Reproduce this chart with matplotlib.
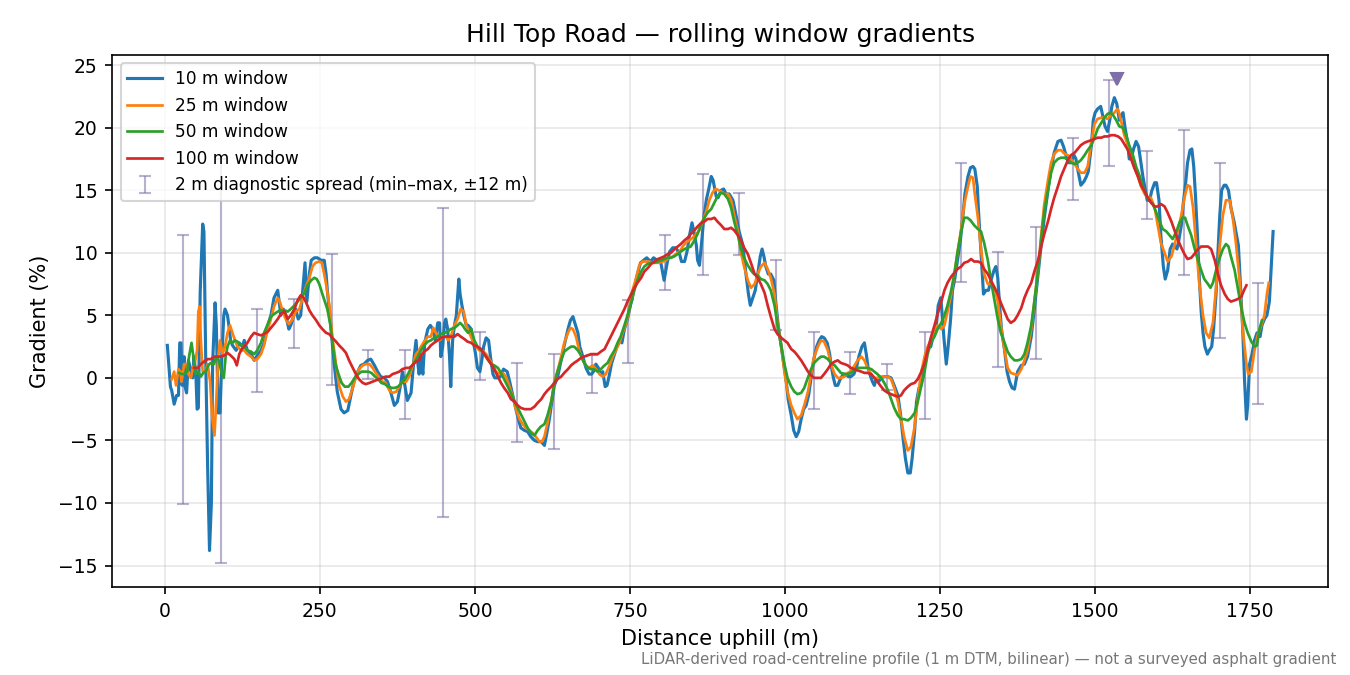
import matplotlib
matplotlib.use("Agg")
import matplotlib.pyplot as plt

# distances (m) and gradients (%), one pair of lists per window
dist_10 = [4, 9, 11, 15, 19, 22, 24, 26, 28, 31, 32, 35, 38, 45, 47, 50, 52, 54, 57, 61, 63, 66, 69, 72, 75, 77, 81, 83, 86, 89,
           92, 95, 97, 101, 104, 106, 109, 115, 120, 125, 128, 133, 139, 144, 149, 155, 160, 166, 171, 176, 182, 184, 187, 191,
           195, 200, 203, 208, 211, 215, 219, 224, 226, 229, 233, 236, 241, 246, 252, 257, 260, 262, 268, 273, 278, 284, 289,
           295, 300, 305, 311, 316, 321, 327, 332, 338, 343, 348, 354, 359, 364, 370, 375, 380, 383, 387, 391, 397, 400, 402,
           405, 408, 410, 413, 416, 419, 424, 428, 432, 436, 440, 443, 445, 448, 451, 453, 456, 459, 461, 464, 467, 470, 474,
           476, 479, 482, 486, 489, 494, 497, 501, 504, 508, 511, 514, 518, 522, 525, 529, 532, 537, 541, 546, 552, 556, 561,
           566, 570, 574, 580, 585, 590, 596, 601, 607, 612, 616, 620, 624, 628, 633, 639, 644, 650, 654, 658, 661, 666, 669,
           674, 679, 684, 688, 691, 695, 699, 702, 706, 710, 713, 717, 720, 725, 729, 733, 737, 741, 746, 752, 757, 762, 767,
           772, 777, 783, 788, 794, 799, 803, 805, 810, 814, 819, 824, 830, 833, 838, 842, 846, 850, 853, 857, 859, 862, 866,
           869, 873, 877, 881, 884, 889, 892, 897, 901, 905, 910, 916, 921, 926, 932, 937, 941, 944, 948, 952, 956, 960, 963,
           966, 969, 973, 977, 982, 985, 989, 994, 998, 1002, 1005, 1010, 1014, 1018, 1022, 1026, 1030, 1034, 1038, 1042,
           1046, 1051, 1055, 1059, 1063, 1068, 1072, 1074, 1078, 1081, 1085, 1089, 1094, 1098, 1102, 1106, 1111, 1115, 1119,
           1124, 1128, 1131, 1134, 1138, 1141, 1144, 1147, 1151, 1155, 1160, 1166, 1171, 1176, 1182, 1186, 1190, 1194, 1198,
           1202, 1205, 1209, 1212, 1216, 1219, 1223, 1227, 1231, 1235, 1240, 1244, 1247, 1251, 1253, 1256, 1260, 1263, 1267,
           1270, 1274, 1278, 1283, 1287, 1290, 1295, 1299, 1303, 1306, 1310, 1312, 1315, 1318, 1320, 1324, 1328, 1332, 1337,
           1340, 1343, 1346, 1349, 1354, 1358, 1362, 1366, 1370, 1375, 1381, 1386, 1391, 1397, 1402, 1408, 1413, 1418, 1424,
           1429, 1434, 1440, 1445, 1449, 1453, 1457, 1461, 1466, 1469, 1473, 1477, 1482, 1486, 1489, 1494, 1497, 1500, 1504,
           1509, 1512, 1516, 1520, 1524, 1527, 1531, 1535, 1539, 1542, 1545, 1548, 1552, 1555, 1558, 1562, 1566, 1570, 1573,
           1577, 1581, 1584, 1588, 1591, 1596, 1599, 1603, 1606, 1610, 1613, 1617, 1621, 1625, 1628, 1632, 1635, 1639, 1642,
           1646, 1649, 1653, 1656, 1659, 1662, 1665, 1668, 1671, 1674, 1677, 1681, 1684, 1688, 1691, 1695, 1698, 1701, 1704,
           1708, 1711, 1715, 1719, 1724, 1728, 1731, 1734, 1738, 1741, 1744, 1746, 1749, 1753, 1757, 1761, 1766, 1769, 1773,
           1777, 1781, 1784, 1787]
grad_10 = [2.6, -0.7, -1.0, -2.1, -1.4, -1.4, 2.8, 2.8, -0.6, 1.7, -0.6, -1.2, 1.4, 0.0, 1.7, 0.3, -2.5, -2.4, 6.9, 12.3,
           11.7, 1.1, -7.2, -13.8, -10.0, 1.1, 6.0, 4.2, -2.8, -2.8, 1.7, 5.0, 5.5, 5.0, 3.9, 3.0, 2.6, 2.2, 2.8, 2.5, 3.0, 2.2,
           1.9, 1.4, 1.8, 2.2, 2.8, 4.2, 5.0, 6.4, 7.0, 6.2, 5.0, 5.5, 5.0, 3.9, 4.2, 5.0, 5.5, 4.7, 5.0, 8.0, 9.2, 6.1, 8.3,
           9.4, 9.6, 9.6, 9.4, 9.4, 8.3, 7.0, 3.9, 1.1, -1.1, -2.5, -2.8, -2.6, -1.4, -0.3, 0.5, 1.0, 1.1, 1.4, 1.5, 1.0, 0.5,
           0.1, 0.0, -0.3, -1.1, -2.2, -1.9, -0.6, 0.5, -0.6, -1.8, -1.2, 0.5, 1.7, 3.0, 1.1, 0.3, 1.7, 0.3, 2.8, 3.9, 4.2, 3.9,
           3.0, 4.4, 4.4, 1.7, 2.5, 4.4, 4.7, 3.9, 1.7, -0.7, 3.0, 4.2, 5.0, 7.9, 6.7, 5.8, 5.0, 4.2, 4.2, 3.9, 3.0, 1.9, 0.8,
           0.5, 1.4, 2.5, 3.2, 3.0, 1.7, 0.3, 0.0, 0.0, 0.1, 0.7, 0.5, -0.3, -1.4, -2.5, -3.3, -4.0, -4.2, -4.3, -4.7, -5.0,
           -5.1, -5.1, -5.4, -4.4, -3.3, -1.9, -0.6, 0.0, 1.4, 2.6, 3.9, 4.6, 4.9, 4.4, 3.6, 2.5, 1.7, 0.8, 0.3, 0.3, 0.5, 1.1,
           0.8, 0.3, 0.5, -0.7, -0.6, 0.3, 1.1, 1.9, 2.5, 3.0, 2.8, 3.9, 4.7, 6.1, 7.2, 8.3, 9.2, 9.4, 9.6, 9.3, 9.6, 9.4, 9.4,
           8.3, 7.8, 9.2, 10.1, 10.4, 10.4, 9.9, 9.3, 9.3, 10.1, 11.4, 12.4, 11.7, 10.6, 9.4, 9.0, 11.1, 12.8, 14.2, 15.1, 16.1,
           15.8, 14.5, 14.4, 15.0, 15.1, 14.7, 14.7, 14.2, 13.0, 11.7, 10.6, 8.3, 6.7, 5.8, 6.4, 7.0, 8.3, 9.7, 10.3, 9.7, 8.9,
           8.3, 8.3, 7.8, 6.1, 4.2, 2.5, 1.1, -0.3, -1.7, -3.0, -4.2, -4.7, -4.3, -3.3, -2.5, -2.2, -1.4, 0.0, 1.4, 2.5, 3.0,
           3.3, 3.2, 2.8, 1.9, 1.1, 0.0, -0.6, -0.6, -0.1, 0.3, 0.3, 0.1, 0.1, 0.3, 0.8, 1.7, 2.5, 2.8, 1.9, 0.8, 0.1, -0.3,
           -0.6, -0.1, -0.3, 0.0, 0.1, 0.1, 0.0, -0.6, -1.4, -2.8, -4.7, -6.4, -7.6, -7.6, -6.4, -4.2, -1.9, -0.8, -0.6, 0.3,
           1.9, 2.4, 2.5, 3.6, 4.2, 5.8, 6.4, 5.3, 3.3, 1.1, 2.5, 4.7, 7.0, 8.0, 9.4, 11.1, 13.0, 14.7, 16.1, 16.8, 16.9, 16.7,
           15.3, 13.3, 10.8, 8.3, 6.7, 7.0, 7.0, 7.8, 8.6, 8.9, 8.0, 5.8, 3.9, 2.2, 0.5, -0.3, -0.8, -0.9, 0.5, 1.0, 1.1, 1.7,
           3.3, 5.5, 8.3, 10.6, 12.8, 15.0, 16.7, 18.0, 18.9, 19.0, 18.5, 17.8, 17.2, 17.2, 17.8, 17.5, 16.4, 15.4, 15.7, 16.1,
           16.5, 18.6, 20.6, 21.2, 21.5, 21.7, 21.0, 20.1, 19.7, 20.7, 21.7, 22.4, 21.9, 20.6, 21.0, 21.2, 20.1, 18.9, 17.5,
           17.5, 18.3, 18.9, 18.5, 17.5, 16.1, 15.0, 14.2, 14.2, 14.9, 15.6, 15.6, 14.2, 11.4, 8.9, 7.9, 8.6, 10.3, 10.7, 10.6,
           10.3, 11.0, 12.2, 13.9, 15.6, 17.2, 18.2, 18.3, 16.9, 14.4, 11.4, 8.0, 5.3, 3.6, 2.5, 1.9, 2.2, 2.5, 3.9, 6.7, 10.0,
           13.0, 15.0, 15.4, 15.4, 15.0, 13.6, 12.5, 11.4, 10.6, 7.8, 3.9, -0.3, -3.3, -2.2, 1.1, 1.9, 3.0, 3.6, 3.3, 4.2, 4.7,
           5.0, 6.1, 8.9, 11.7]

dist_25 = [11, 15, 18, 22, 25, 27, 31, 35, 38, 42, 45, 48, 52, 54, 56, 58, 61, 65, 69, 73, 76, 80, 83, 86, 89, 93, 97, 101,
           105, 109, 113, 117, 123, 128, 133, 139, 144, 149, 155, 160, 166, 171, 176, 182, 186, 190, 195, 200, 206, 211, 217,
           222, 227, 233, 238, 243, 249, 253, 257, 261, 266, 270, 276, 281, 287, 292, 297, 303, 308, 313, 319, 324, 330, 335,
           340, 346, 351, 356, 362, 367, 373, 378, 383, 389, 394, 399, 405, 410, 413, 418, 424, 429, 433, 437, 443, 448, 453,
           457, 461, 467, 472, 477, 482, 486, 491, 496, 502, 507, 512, 518, 523, 529, 534, 539, 545, 550, 555, 561, 566, 572,
           577, 582, 588, 593, 598, 604, 608, 612, 617, 623, 628, 633, 639, 644, 650, 654, 658, 663, 668, 674, 679, 684, 690,
           695, 701, 706, 711, 717, 722, 727, 733, 738, 744, 749, 754, 760, 765, 770, 776, 781, 787, 792, 797, 803, 808, 813,
           819, 824, 830, 835, 840, 846, 851, 857, 862, 867, 873, 878, 883, 888, 893, 897, 902, 908, 913, 918, 924, 929, 934,
           940, 945, 951, 956, 961, 967, 972, 977, 983, 988, 994, 999, 1004, 1010, 1015, 1020, 1026, 1031, 1037, 1042, 1047,
           1053, 1058, 1063, 1069, 1074, 1080, 1085, 1090, 1096, 1101, 1106, 1112, 1117, 1123, 1128, 1133, 1139, 1144, 1149,
           1155, 1160, 1166, 1171, 1176, 1182, 1187, 1192, 1198, 1203, 1209, 1214, 1219, 1225, 1230, 1235, 1241, 1246, 1252,
           1257, 1262, 1268, 1273, 1278, 1284, 1289, 1295, 1299, 1303, 1306, 1311, 1316, 1321, 1327, 1332, 1338, 1343, 1348,
           1354, 1359, 1364, 1370, 1375, 1381, 1386, 1391, 1397, 1402, 1408, 1413, 1418, 1424, 1429, 1434, 1440, 1445, 1451,
           1456, 1461, 1467, 1472, 1477, 1483, 1488, 1494, 1499, 1504, 1510, 1515, 1520, 1526, 1531, 1536, 1539, 1543, 1547,
           1553, 1558, 1563, 1569, 1574, 1580, 1585, 1590, 1596, 1601, 1606, 1612, 1617, 1623, 1628, 1633, 1639, 1644, 1649,
           1653, 1658, 1663, 1668, 1674, 1679, 1684, 1690, 1695, 1701, 1706, 1711, 1717, 1722, 1727, 1733, 1738, 1744, 1747,
           1752, 1757, 1762, 1768, 1773, 1777, 1780]
grad_25 = [-0.1, 0.5, -0.6, 0.7, 0.5, -0.3, 1.1, 1.1, 0.3, 0.0, 0.8, 1.1, 2.2, 5.3, 5.7, 3.0, 0.5, 0.5, 1.1, -0.3, -3.0,
           -4.6, -1.7, 1.7, 3.0, 1.9, 2.5, 3.6, 4.2, 3.6, 3.0, 2.5, 2.2, 2.2, 1.9, 1.7, 1.4, 1.5, 1.9, 2.6, 3.9, 4.7, 5.7, 6.4,
           6.0, 5.3, 4.7, 4.3, 4.7, 5.3, 5.5, 6.4, 7.2, 8.0, 8.9, 9.2, 9.3, 9.2, 8.3, 7.2, 5.5, 3.3, 1.1, -0.6, -1.5, -1.9,
           -1.7, -0.8, 0.1, 0.7, 1.0, 1.1, 1.1, 0.8, 0.4, 0.0, -0.3, -0.4, -1.0, -1.2, -1.1, -0.7, -0.3, -0.3, 0.1, 0.9, 1.9,
           2.2, 2.5, 2.9, 3.3, 3.3, 4.0, 3.6, 3.0, 3.3, 3.3, 3.0, 3.3, 4.2, 4.7, 5.5, 5.3, 4.2, 3.6, 3.0, 2.5, 2.2, 2.2, 1.9,
           1.5, 1.0, 0.5, 0.3, 0.4, 0.1, -0.6, -1.5, -2.5, -3.3, -3.7, -4.0, -4.2, -4.4, -4.7, -5.1, -5.1, -4.7, -3.6, -1.9,
           -0.3, 0.5, 1.7, 2.8, 3.6, 4.0, 3.9, 3.3, 2.2, 1.4, 1.0, 0.8, 1.0, 0.7, 0.3, 0.1, 0.3, 1.0, 1.7, 2.2, 2.8, 3.6, 4.4,
           5.5, 7.0, 8.0, 9.0, 9.3, 9.3, 9.3, 9.2, 9.2, 9.2, 9.3, 9.4, 9.6, 9.7, 9.9, 10.1, 10.5, 10.8, 11.0, 11.2, 11.5, 11.8,
           12.5, 13.3, 14.2, 14.8, 15.1, 15.0, 14.9, 14.7, 14.7, 14.2, 13.0, 11.7, 10.0, 8.9, 7.8, 7.2, 7.5, 8.3, 8.9, 9.2, 8.7,
           8.0, 6.7, 4.4, 2.5, 0.5, -1.1, -2.2, -2.8, -3.3, -3.0, -2.2, -1.1, 0.3, 1.7, 2.5, 3.0, 2.9, 2.2, 1.1, 0.3, 0.0, 0.0,
           0.1, 0.4, 0.5, 1.0, 1.4, 1.7, 1.4, 0.8, 0.3, 0.0, 0.0, 0.1, 0.1, 0.1, -0.1, -0.8, -1.9, -3.3, -4.7, -5.8, -5.5, -3.9,
           -1.7, 0.3, 1.7, 2.5, 3.0, 3.9, 4.2, 3.9, 4.2, 5.3, 6.7, 8.3, 10.0, 11.9, 13.9, 15.3, 16.1, 16.0, 14.7, 12.8, 10.3,
           8.3, 7.5, 7.5, 7.2, 6.1, 4.2, 2.2, 0.8, 0.4, 0.3, 0.2, 0.7, 1.4, 2.2, 3.9, 6.1, 8.6, 11.4, 13.9, 15.8, 17.2, 17.9,
           18.2, 18.2, 17.9, 17.8, 17.5, 17.1, 16.7, 16.4, 16.4, 16.9, 18.9, 20.3, 20.7, 20.8, 20.8, 20.7, 21.0, 21.2, 21.5,
           21.1, 20.3, 19.4, 18.6, 17.8, 16.9, 16.1, 15.3, 14.7, 14.4, 14.4, 13.6, 12.2, 10.8, 10.0, 9.3, 9.7, 10.6, 11.7,
           13.0, 14.4, 15.4, 15.3, 13.6, 10.6, 7.5, 5.0, 3.6, 3.2, 4.4, 7.2, 10.6, 13.0, 14.2, 14.2, 12.8, 10.8, 7.8, 3.9, 1.1,
           0.3, 0.5, 2.2, 3.4, 4.2, 5.0, 6.7, 7.6]

dist_50 = [23, 27, 31, 36, 39, 43, 46, 50, 54, 58, 62, 66, 70, 74, 79, 83, 87, 91, 95, 98, 101, 105, 109, 113, 117, 123,
           128, 133, 139, 144, 149, 155, 160, 166, 171, 176, 182, 187, 193, 198, 203, 209, 214, 219, 225, 230, 236, 241, 245,
           249, 254, 258, 262, 267, 271, 275, 280, 285, 290, 296, 301, 306, 312, 317, 323, 328, 333, 339, 344, 349, 355, 360,
           366, 371, 376, 382, 387, 392, 398, 403, 408, 413, 418, 424, 429, 434, 440, 445, 451, 456, 461, 467, 472, 476, 480,
           484, 489, 494, 499, 504, 510, 515, 520, 526, 531, 537, 542, 547, 553, 558, 563, 569, 574, 580, 585, 590, 596, 601,
           606, 612, 617, 623, 628, 633, 639, 644, 649, 655, 660, 666, 671, 676, 682, 687, 692, 698, 703, 709, 714, 719, 725,
           730, 735, 741, 746, 752, 757, 762, 768, 773, 778, 784, 789, 795, 800, 805, 811, 816, 821, 827, 832, 838, 843, 848,
           854, 859, 864, 870, 875, 881, 886, 891, 897, 902, 908, 913, 918, 924, 929, 934, 940, 945, 950, 956, 961, 967, 972,
           977, 983, 988, 994, 999, 1004, 1010, 1015, 1020, 1026, 1031, 1036, 1042, 1047, 1053, 1058, 1063, 1069, 1074, 1080,
           1085, 1090, 1096, 1101, 1106, 1112, 1117, 1122, 1128, 1133, 1139, 1144, 1149, 1155, 1160, 1166, 1171, 1176, 1182,
           1187, 1192, 1198, 1203, 1209, 1214, 1219, 1225, 1230, 1235, 1241, 1246, 1252, 1257, 1262, 1268, 1273, 1278, 1284,
           1289, 1294, 1299, 1305, 1311, 1316, 1321, 1327, 1332, 1338, 1343, 1348, 1354, 1359, 1364, 1370, 1375, 1381, 1386,
           1391, 1397, 1402, 1408, 1413, 1418, 1424, 1429, 1434, 1440, 1445, 1451, 1456, 1461, 1467, 1472, 1477, 1483, 1488,
           1494, 1499, 1504, 1510, 1515, 1520, 1525, 1529, 1534, 1539, 1545, 1550, 1555, 1561, 1566, 1572, 1577, 1582, 1588,
           1593, 1598, 1604, 1609, 1615, 1620, 1625, 1631, 1636, 1641, 1645, 1649, 1655, 1660, 1666, 1671, 1676, 1682, 1686,
           1690, 1695, 1701, 1706, 1711, 1715, 1719, 1725, 1730, 1736, 1741, 1746, 1752, 1757, 1761, 1765, 1769]
grad_50 = [0.4, 0.3, 0.3, 0.5, 1.7, 2.8, 1.7, 0.3, 0.5, 0.1, 0.4, 0.5, 1.0, 1.2, 1.1, 1.7, 1.4, 0.5, 0.0, 1.7, 2.5, 3.0,
           2.8, 3.0, 2.9, 2.6, 2.5, 2.2, 2.1, 1.9, 2.2, 2.8, 3.6, 4.3, 4.9, 5.1, 5.3, 5.4, 5.4, 5.3, 5.5, 5.8, 6.1, 6.4, 6.8,
           7.4, 7.8, 8.0, 7.9, 7.5, 6.7, 6.1, 5.5, 4.2, 2.5, 1.1, 0.3, -0.4, -0.7, -0.7, -0.4, 0.0, 0.3, 0.5, 0.5, 0.5, 0.4,
           0.1, -0.1, -0.4, -0.5, -0.7, -0.8, -0.8, -0.7, -0.4, -0.1, 0.3, 0.9, 1.3, 1.7, 2.2, 2.6, 2.9, 3.0, 3.2, 3.3, 3.5,
           3.6, 3.7, 3.9, 4.0, 4.2, 4.4, 4.2, 3.9, 3.6, 3.9, 3.0, 2.5, 2.2, 1.9, 1.5, 1.1, 1.0, 0.8, 0.4, -0.1, -0.7, -1.2,
           -1.8, -2.4, -2.9, -3.5, -4.0, -4.4, -4.6, -4.2, -3.9, -3.7, -3.0, -1.9, -0.5, 0.5, 1.4, 2.1, 2.3, 2.5, 2.5, 2.2,
           1.8, 1.2, 0.8, 0.7, 0.7, 0.5, 0.7, 1.0, 1.2, 1.7, 2.2, 2.8, 3.3, 4.2, 5.0, 6.0, 7.0, 7.8, 8.5, 8.9, 9.1, 9.2, 9.2,
           9.3, 9.4, 9.5, 9.6, 9.6, 9.7, 9.9, 10.1, 10.3, 10.4, 10.5, 11.0, 11.5, 12.2, 12.8, 13.2, 13.5, 14.0, 14.5, 14.8,
           14.7, 14.3, 13.6, 12.5, 11.4, 10.3, 9.6, 9.0, 8.6, 8.3, 8.2, 7.9, 7.8, 7.5, 7.0, 5.8, 4.2, 2.5, 1.1, 0.0, -0.7,
           -1.1, -1.3, -1.2, -0.8, -0.1, 0.7, 1.2, 1.5, 1.7, 1.7, 1.5, 1.2, 1.0, 0.7, 0.4, 0.3, 0.3, 0.4, 0.6, 0.8, 0.8, 0.8,
           0.8, 0.7, 0.5, 0.3, 0.0, -0.4, -1.0, -1.7, -2.4, -3.0, -3.3, -3.3, -3.4, -3.2, -2.8, -1.9, -0.8, 0.5, 1.9, 2.8, 3.3,
           3.9, 4.4, 5.0, 5.8, 7.0, 8.3, 10.0, 11.7, 12.8, 12.8, 12.6, 12.2, 11.9, 11.7, 10.8, 9.4, 7.8, 6.1, 4.7, 3.6, 2.8,
           2.1, 1.7, 1.4, 1.4, 1.5, 1.9, 2.8, 4.2, 6.1, 8.6, 11.1, 13.3, 15.0, 16.4, 17.2, 17.5, 17.6, 17.6, 17.4, 17.2, 17.1,
           17.2, 17.4, 17.8, 18.2, 18.6, 19.2, 19.9, 20.4, 20.8, 21.1, 21.2, 21.0, 20.6, 20.1, 20.0, 19.4, 18.6, 17.8, 16.9,
           16.1, 15.3, 14.6, 14.2, 13.9, 13.3, 12.5, 11.9, 11.7, 11.4, 11.1, 11.7, 12.4, 12.8, 12.8, 12.2, 11.4, 10.4, 9.4,
           8.6, 7.9, 7.5, 7.2, 7.6, 8.6, 9.6, 10.3, 10.7, 10.5, 9.7, 8.6, 7.2, 5.5, 4.4, 3.6, 2.9, 2.5, 2.6, 3.9, 4.6]

dist_100 = [47, 53, 58, 63, 69, 74, 80, 85, 90, 96, 101, 106, 112, 116, 120, 124, 128, 133, 139, 144, 149, 155, 160, 166,
            171, 176, 182, 187, 193, 198, 203, 209, 214, 219, 224, 228, 233, 238, 244, 249, 254, 260, 265, 270, 276, 281, 287,
            292, 297, 303, 308, 313, 319, 324, 330, 335, 340, 346, 351, 356, 362, 367, 373, 378, 383, 389, 394, 399, 405, 410,
            413, 418, 424, 429, 434, 440, 445, 451, 456, 461, 467, 472, 477, 483, 488, 494, 499, 504, 510, 515, 521, 526, 531,
            537, 542, 547, 553, 558, 564, 569, 574, 580, 585, 590, 596, 601, 607, 612, 617, 623, 628, 633, 639, 644, 650, 655,
            660, 666, 671, 676, 682, 687, 693, 698, 703, 709, 714, 719, 725, 730, 736, 741, 746, 752, 757, 762, 768, 773, 779,
            784, 789, 795, 800, 805, 811, 816, 822, 827, 832, 838, 843, 848, 854, 859, 865, 870, 875, 881, 886, 891, 897, 902,
            908, 913, 918, 924, 929, 934, 940, 945, 951, 956, 961, 967, 972, 977, 983, 988, 994, 999, 1004, 1010, 1015, 1020,
            1026, 1031, 1037, 1042, 1047, 1053, 1058, 1063, 1069, 1074, 1080, 1085, 1090, 1096, 1101, 1106, 1112, 1117, 1123,
            1128, 1133, 1139, 1144, 1149, 1155, 1160, 1166, 1171, 1176, 1182, 1187, 1192, 1198, 1203, 1209, 1214, 1219, 1225,
            1230, 1235, 1241, 1246, 1252, 1257, 1262, 1268, 1273, 1278, 1284, 1289, 1295, 1300, 1305, 1311, 1316, 1321, 1327,
            1332, 1338, 1343, 1348, 1354, 1359, 1364, 1370, 1375, 1381, 1386, 1391, 1397, 1402, 1408, 1413, 1418, 1424, 1429,
            1434, 1440, 1445, 1451, 1456, 1461, 1467, 1472, 1477, 1483, 1488, 1494, 1499, 1504, 1510, 1515, 1520, 1526, 1531,
            1537, 1542, 1547, 1553, 1558, 1563, 1569, 1574, 1580, 1585, 1590, 1596, 1601, 1606, 1612, 1617, 1623, 1628, 1633,
            1639, 1644, 1649, 1655, 1660, 1666, 1671, 1676, 1682, 1687, 1693, 1698, 1703, 1709, 1714, 1719, 1725, 1730, 1736,
            1740, 1744]
grad_100 = [0.8, 0.8, 1.1, 1.3, 1.5, 1.5, 1.7, 1.7, 1.7, 1.8, 2.0, 1.8, 1.5, 1.0, 1.9, 2.3, 2.5, 2.8, 3.3, 3.6, 3.5, 3.4,
            3.5, 3.7, 4.0, 4.3, 4.7, 5.1, 5.3, 4.7, 5.0, 5.5, 6.2, 6.6, 6.4, 6.0, 5.4, 5.0, 4.6, 4.2, 3.9, 3.6, 3.5, 3.2, 2.9,
            2.6, 2.3, 2.0, 1.4, 0.8, 0.3, -0.1, -0.4, -0.5, -0.4, -0.3, -0.2, -0.1, 0.0, 0.1, 0.1, 0.3, 0.4, 0.5, 0.7, 0.8, 0.8,
            1.0, 1.3, 1.4, 1.8, 2.1, 2.3, 2.6, 2.8, 3.0, 3.2, 3.3, 3.3, 3.3, 3.3, 3.5, 3.3, 3.1, 2.9, 2.8, 2.6, 2.5, 2.3, 1.9,
            1.5, 1.1, 0.7, 0.1, -0.4, -0.8, -1.2, -1.7, -1.9, -2.2, -2.4, -2.5, -2.5, -2.5, -2.3, -2.0, -1.7, -1.3, -1.0, -0.7,
            -0.4, -0.1, 0.1, 0.4, 0.7, 1.0, 1.2, 1.4, 1.6, 1.7, 1.8, 1.9, 1.9, 1.9, 2.1, 2.3, 2.8, 3.3, 3.9, 4.4, 5.0, 5.5, 6.1,
            6.7, 7.2, 7.6, 8.0, 8.5, 8.8, 9.1, 9.3, 9.5, 9.6, 9.7, 9.9, 10.0, 10.3, 10.5, 10.7, 11.0, 11.2, 11.5, 11.8, 12.1,
            12.4, 12.5, 12.7, 12.7, 12.8, 12.5, 12.2, 11.9, 11.9, 12.0, 11.8, 11.4, 11.0, 10.4, 9.9, 9.2, 8.3, 8.0, 7.5, 6.8,
            5.8, 4.9, 3.9, 3.5, 3.2, 3.0, 2.8, 2.3, 2.1, 1.8, 1.4, 1.0, 0.5, 0.2, 0.0, 0.0, 0.0, 0.3, 0.7, 1.1, 1.3, 1.4, 1.2,
            1.1, 1.0, 0.8, 0.7, 0.6, 0.5, 0.4, 0.4, 0.3, 0.0, -0.3, -0.7, -1.0, -1.2, -1.3, -1.4, -1.5, -1.4, -1.0, -0.7, -0.5,
            -0.4, -0.1, 0.4, 1.2, 2.2, 3.2, 4.2, 5.1, 6.1, 7.0, 7.6, 8.1, 8.4, 8.7, 8.9, 9.2, 9.3, 9.5, 9.3, 9.3, 9.2, 8.7, 8.3,
            7.8, 7.2, 6.7, 6.0, 5.3, 4.7, 4.4, 4.6, 5.0, 5.6, 6.4, 7.0, 7.6, 8.5, 9.4, 10.5, 11.5, 12.5, 13.5, 14.4, 15.3,
            16.1, 16.8, 17.4, 17.8, 18.0, 18.3, 18.6, 18.8, 18.9, 19.0, 19.1, 19.2, 19.2, 19.3, 19.3, 19.4, 19.4, 19.3, 19.1,
            18.7, 18.2, 17.5, 16.8, 16.1, 15.4, 14.9, 14.4, 14.0, 13.7, 13.7, 13.9, 13.7, 13.2, 12.5, 11.8, 11.1, 10.4, 9.9,
            9.5, 9.6, 9.9, 10.3, 10.5, 10.5, 10.5, 10.3, 9.4, 8.3, 7.4, 6.7, 6.3, 6.1, 6.2, 6.3, 6.5, 7.0, 7.4]

# 2 m diagnostic spread: centre distance, min and max gradient
spread_dist = [30, 90, 149, 209, 269, 328, 388, 448, 508, 568, 628, 688, 747, 807, 867, 926, 986, 1046, 1105, 1165, 1225,
               1284, 1344, 1404, 1464, 1523, 1583, 1643, 1702, 1762]
spread_min = [-10.1, -14.8, -1.1, 2.4, -0.6, -0.1, -3.3, -11.1, -0.2, -5.1, -5.7, -1.2, 1.2, 7.0, 8.2, 9.8, 3.8, -2.5,
              -1.3, -1.0, -3.3, 7.7, 0.9, 1.5, 14.2, 16.9, 12.7, 8.2, 3.2, -2.1]
spread_max = [11.4, 17.5, 5.5, 6.3, 9.9, 2.2, 2.2, 13.6, 3.7, 1.2, 1.9, 1.8, 6.2, 11.4, 16.3, 14.8, 9.4, 3.7, 2.1, 1.1,
              3.7, 17.2, 10.1, 12.1, 19.2, 23.8, 18.1, 19.8, 17.2, 7.6]

peak_dist = 1535
peak_grad = 23.9

fig, ax = plt.subplots(figsize=(9, 4.5), dpi=150)
fig.subplots_adjust(left=0.083, right=0.984, top=0.919, bottom=0.13)

ax.plot(dist_10, grad_10, color="#1f77b4", lw=1.5, label="10 m window", zorder=3)
ax.plot(dist_25, grad_25, color="#ff7f0e", lw=1.3, label="25 m window", zorder=4)
ax.plot(dist_50, grad_50, color="#2ca02c", lw=1.3, label="50 m window", zorder=5)
ax.plot(dist_100, grad_100, color="#d62728", lw=1.3, label="100 m window", zorder=6)

centre = [(lo + hi) / 2 for lo, hi in zip(spread_min, spread_max)]
half = [(hi - lo) / 2 for lo, hi in zip(spread_min, spread_max)]
ax.errorbar(spread_dist, centre, yerr=half, fmt="none", ecolor="#7f6fa8", alpha=0.55,
            elinewidth=1.0, capsize=3, label="2 m diagnostic spread (min\u2013max, \u00b112 m)", zorder=2)
ax.plot([peak_dist], [peak_grad], marker="v", color="#7f6fa8", ms=6, ls="none", zorder=7)

ax.set_title("Hill Top Road \u2014 rolling window gradients", fontsize=12)
ax.set_xlabel("Distance uphill (m)", fontsize=10)
ax.set_ylabel("Gradient (%)", fontsize=10)
ax.tick_params(labelsize=9)
ax.grid(True, alpha=0.3)
ax.legend(loc="upper left", fontsize=8.2)

fig.text(0.99, 0.012, "LiDAR-derived road-centreline profile (1 m DTM, bilinear) \u2014 not a surveyed asphalt gradient",
         ha="right", va="bottom", fontsize=7.2, color="#777777")

fig.savefig("out.png", dpi=150)
